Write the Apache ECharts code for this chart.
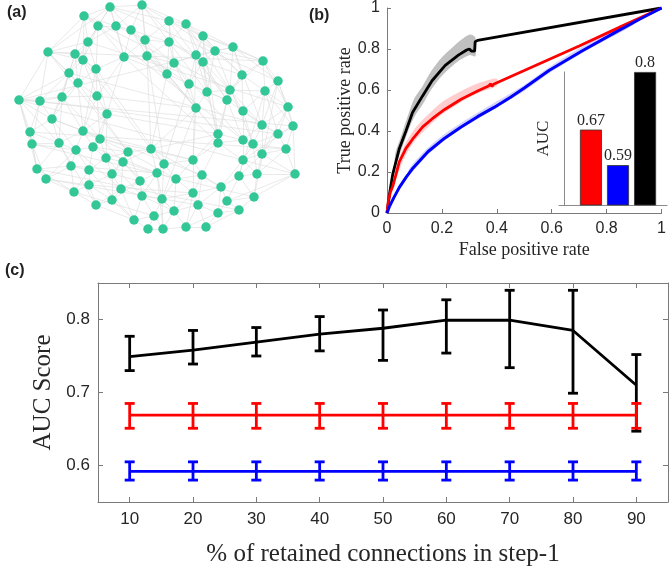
<!DOCTYPE html>
<html>
<head>
<meta charset="utf-8">
<script src="https://cdn.jsdelivr.net/npm/echarts@6/dist/echarts.min.js"></script>
<style>
  html, body { margin: 0; padding: 0; background: #fff; }
  #chart { width: 669px; height: 571px; }
</style>
</head>
<body>
<div id="chart"></div>
<script>
// (a) network: node positions (panel pixels) and links
const nodes = [
  [110,7],[142,5],[84,16],[169,21],[186,24],[98,26],[116,26],[131,30],[203,36],[145,40],
  [88,42],[169,42],[233,47],[48,52],[215,51],[75,54],[124,57],[147,56],[196,55],[83,60],
  [203,62],[263,61],[174,63],[96,69],[69,73],[167,74],[242,75],[278,81],[78,83],[189,84],
  [207,92],[230,90],[265,91],[19,100],[40,101],[62,97],[97,96],[227,100],[196,108],[288,107],
  [243,111],[107,114],[52,119],[262,125],[293,126],[30,132],[83,131],[218,134],[278,134],[100,139],
  [243,140],[32,144],[59,143],[218,143],[253,144],[93,147],[76,150],[151,149],[286,149],[128,152],
  [262,154],[106,158],[123,162],[193,160],[243,160],[164,164],[71,166],[37,169],[89,170],[112,174],
  [157,173],[202,175],[257,174],[295,174],[239,176],[46,179],[176,179],[140,181],[89,185],[221,187],
  [121,189],[74,192],[193,193],[142,196],[112,200],[162,199],[227,201],[254,197],[96,205],[198,205],
  [174,211],[239,210],[218,213],[154,216],[134,220],[148,229],[163,229],[186,227],[206,227]
];
const edges = [
  [0,1],[0,2],[0,5],[0,6],[0,7],[0,3],[0,10],[0,16],[0,13],
  [1,3],[1,4],[1,7],[1,9],[1,11],[1,6],[1,17],
  [2,5],[2,10],[2,13],[2,15],[2,6],[2,19],
  [3,4],[3,8],[3,11],[3,9],[3,14],[3,22],
  [4,8],[4,11],[4,14],[4,18],[4,12],[4,20],
  [5,6],[5,10],[5,16],[5,19],[5,23],
  [6,7],[6,16],[6,9],[6,10],
  [7,9],[7,16],[7,17],[7,11],
  [8,12],[8,14],[8,18],[8,20],[8,21],[8,26],
  [9,11],[9,17],[9,16],[9,22],[9,25],
  [10,15],[10,19],[10,23],[10,24],[10,13],
  [11,17],[11,18],[11,22],[11,25],[11,20],
  [12,14],[12,21],[12,26],[12,27],[12,31],
  [13,15],[13,24],[13,33],[13,34],[13,28],[13,19],
  [14,18],[14,20],[14,26],[14,21],[14,30],
  [15,19],[15,24],[15,28],[15,35],[15,23],
  [16,17],[16,23],[16,25],[16,36],[16,41],
  [17,22],[17,25],[17,29],[17,38],
  [18,20],[18,22],[18,29],[18,30],
  [19,23],[19,24],[19,28],[19,36],
  [20,29],[20,30],[20,26],[20,31],[20,37],
  [21,26],[21,27],[21,32],[21,31],[21,39],
  [22,25],[22,29],[22,38],
  [23,28],[23,36],[23,41],[23,46],
  [24,28],[24,34],[24,35],[24,33],[24,42],
  [25,29],[25,38],[25,57],
  [26,31],[26,32],[26,37],[26,40],
  [27,32],[27,39],[27,44],[27,43],
  [28,35],[28,36],[28,42],[28,46],
  [29,30],[29,38],[29,37],
  [30,31],[30,37],[30,38],[30,47],
  [31,37],[31,40],[31,43],[31,32],
  [32,39],[32,43],[32,40],[32,48],[32,44],
  [33,34],[33,42],[33,45],[33,51],[33,35],[33,67],[33,52],
  [34,35],[34,42],[34,45],[34,51],
  [35,36],[35,42],[35,46],[35,52],
  [36,41],[36,46],[36,49],
  [37,40],[37,47],[37,50],[37,53],
  [38,47],[38,57],[38,63],
  [39,44],[39,48],[39,43],
  [40,43],[40,50],[40,54],[40,48],
  [41,46],[41,49],[41,55],[41,61],
  [42,45],[42,46],[42,52],[42,56],
  [43,48],[43,50],[43,54],[43,60],
  [44,48],[44,58],[44,73],
  [45,51],[45,52],[45,67],
  [46,49],[46,52],[46,55],[46,56],
  [47,50],[47,53],[47,63],[47,57],
  [48,54],[48,58],[48,60],
  [49,55],[49,59],[49,61],
  [50,53],[50,54],[50,64],[50,60],
  [51,52],[51,67],[51,75],[51,56],
  [52,56],[52,66],[52,67],
  [53,63],[53,64],[53,71],
  [54,58],[54,60],[54,64],[54,72],
  [55,56],[55,61],[55,68],[55,59],
  [56,66],[56,68],[56,75],
  [57,59],[57,62],[57,65],[57,70],[57,63],
  [58,60],[58,73],[58,72],
  [59,62],[59,69],[59,61],[59,77],
  [60,64],[60,72],[60,73],[60,74],
  [61,62],[61,68],[61,69],
  [62,69],[62,77],[62,70],[62,80],
  [63,65],[63,71],[63,76],[63,82],
  [64,72],[64,74],[64,79],
  [65,70],[65,76],[65,85],
  [66,67],[66,68],[66,75],[66,81],
  [67,75],[67,81],
  [68,69],[68,78],[68,81],
  [69,77],[69,78],[69,80],[69,84],
  [70,76],[70,77],[70,83],[70,85],
  [71,76],[71,79],[71,82],[71,89],
  [72,73],[72,74],[72,87],
  [73,87],[73,86],
  [74,79],[74,86],[74,87],
  [75,81],[75,78],
  [76,82],[76,85],[76,90],
  [77,80],[77,83],[77,84],
  [78,81],[78,84],[78,88],
  [79,82],[79,86],[79,92],[79,89],
  [80,84],[80,83],[80,88],[80,94],
  [81,88],
  [82,85],[82,89],[82,90],[82,97],
  [83,85],[83,93],[83,94],[83,90],
  [84,88],[84,94],
  [85,90],[85,93],[85,96],
  [86,87],[86,91],[86,92],
  [87,91],[88,94],
  [89,92],[89,97],[89,98],[89,90],
  [90,93],[90,96],[90,97],
  [91,92],[91,98],[92,98],[92,97],
  [93,94],[93,95],[93,96],[94,95],[95,96],[96,97],[97,98],
  [33,12],[13,21],[0,27],[2,31],[10,39],[33,44],[34,48],[24,43],[41,47],[36,38],
  [46,57],[49,63],[33,73],[13,59],[42,71],[23,65],[16,53],[1,40],[5,50],[45,58],
  [51,87],[67,91],[75,89],[78,82],[81,93],[66,70],[19,57],[28,59],[35,62],[25,47],
  [22,50],[3,37],[11,30],[7,38],[9,65],[17,57],[55,70],[61,83],[44,64],[39,60],
  [27,87],[32,74],[12,43],[14,54],[8,47],[4,31],[18,63],[20,53],[29,65],[38,85],
  [57,79],[62,90],[68,94],[52,88],[56,80],[59,76],[70,96]
];

// (b) ROC curves [fpr, tpr]
const rocBlack = [[0,0],[0.01,0.1],[0.021,0.19],[0.045,0.315],[0.069,0.4],[0.093,0.49],[0.129,0.57],
  [0.164,0.645],[0.212,0.72],[0.26,0.77],[0.29,0.795],[0.3,0.8],[0.307,0.79],[0.314,0.782],
  [0.319,0.79],[0.321,0.835],[0.33,0.842],[1,1]];
const rocRed = [[0,0],[0.005,0.06],[0.012,0.1],[0.021,0.13],[0.045,0.25],[0.069,0.315],[0.093,0.36],
  [0.13,0.42],[0.165,0.46],[0.21,0.505],[0.27,0.555],[0.33,0.595],[0.37,0.62],[0.378,0.63],
  [0.382,0.618],[0.388,0.628],[0.5,0.695],[0.7,0.815],[0.85,0.908],[1,1]];
const rocBlue = [[0,0],[0.01,0.035],[0.025,0.075],[0.045,0.125],[0.07,0.175],[0.095,0.22],[0.15,0.3],
  [0.21,0.365],[0.27,0.42],[0.33,0.47],[0.39,0.515],[0.45,0.565],[0.5,0.61],[0.59,0.695],
  [0.71,0.79],[0.83,0.88],[0.92,0.945],[1,1]];
// shaded spread [fpr, low, high]
const bandBlack = [[0.03,0.23,0.29],[0.05,0.3,0.37],[0.08,0.41,0.49],[0.1,0.47,0.56],[0.13,0.53,0.62],
  [0.16,0.6,0.69],[0.2,0.67,0.76],[0.24,0.72,0.81],[0.27,0.75,0.845],[0.3,0.77,0.87],[0.322,0.765,0.855]];
const bandRed = [[0.03,0.16,0.21],[0.06,0.26,0.32],[0.1,0.35,0.41],[0.15,0.42,0.48],[0.2,0.48,0.54],
  [0.25,0.525,0.58],[0.3,0.565,0.615],[0.35,0.595,0.64],[0.4,0.62,0.655]];
const bandBlue = [[0.08,0.185,0.215],[0.15,0.285,0.32],[0.22,0.365,0.395],[0.3,0.435,0.465],[0.4,0.515,0.545],
  [0.5,0.595,0.625],[0.6,0.69,0.72],[0.75,0.81,0.84],[0.9,0.92,0.945]];
// inset AUC bars
const aucPos = [1, 2, 3];
const aucValues = [0.67, 0.59, 0.8];
const aucText = ['0.67', '0.59', '0.8'];
const aucColors = ['#ff0000', '#0000ff', '#000000'];

// (c) AUC vs retained connections
const retained = [10, 20, 30, 40, 50, 60, 70, 80, 90];
const blackMean = [0.749, 0.758, 0.769, 0.780, 0.788, 0.799, 0.799, 0.785, 0.710];
const blackLow  = [0.730, 0.739, 0.750, 0.757, 0.744, 0.754, 0.734, 0.699, 0.647];
const blackHigh = [0.777, 0.785, 0.789, 0.804, 0.813, 0.827, 0.840, 0.840, 0.752];
const redMean = [0.669, 0.669, 0.669, 0.669, 0.669, 0.669, 0.669, 0.669, 0.669];
const redLow  = [0.651, 0.651, 0.651, 0.651, 0.651, 0.651, 0.651, 0.651, 0.651];
const redHigh = [0.685, 0.685, 0.685, 0.685, 0.685, 0.685, 0.685, 0.685, 0.685];
const blueMean = [0.592, 0.592, 0.592, 0.592, 0.592, 0.592, 0.592, 0.592, 0.592];
const blueLow  = [0.580, 0.580, 0.580, 0.580, 0.580, 0.580, 0.580, 0.580, 0.580];
const blueHigh = [0.605, 0.605, 0.605, 0.605, 0.605, 0.605, 0.605, 0.605, 0.605];
const scoreTicks = [0.6, 0.7, 0.8];

const SANS = 'Liberation Sans, Arial, sans-serif';
const SERIF = 'Liberation Serif, Times New Roman, serif';
const AX = '#7a7a7a';
const TXT = '#262626';

const chart = echarts.init(document.getElementById('chart'), null, { renderer: 'canvas' });

function bandSeries(band, color, xi, yi) {
  return {
    type: 'custom', xAxisIndex: xi, yAxisIndex: yi, silent: true, z: 1,
    data: band,
    encode: { x: 0, y: [1, 2] },
    renderItem: (params, api) => {
      if (params.dataIndex !== 0) return;
      const up = band.map((p) => api.coord([p[0], p[2]]));
      const dn = band.slice().reverse().map((p) => api.coord([p[0], p[1]]));
      return { type: 'polygon', shape: { points: up.concat(dn), smooth: 0.3 }, style: { fill: color } };
    },
  };
}

function errorSeries(low, high, color, z) {
  return {
    type: 'custom', xAxisIndex: 3, yAxisIndex: 3, silent: true, z: z,
    data: retained.map((x, i) => [x, low[i], high[i]]),
    encode: { x: 0, y: [1, 2] },
    renderItem: (params, api) => {
      const p1 = api.coord([api.value(0), api.value(1)]);
      const p2 = api.coord([api.value(0), api.value(2)]);
      const w = 5;
      const st = { stroke: color, lineWidth: 2.8 };
      return {
        type: 'group',
        children: [
          { type: 'line', shape: { x1: p1[0], y1: p1[1], x2: p2[0], y2: p2[1] }, style: st },
          { type: 'line', shape: { x1: p1[0] - w, y1: p1[1], x2: p1[0] + w, y2: p1[1] }, style: st },
          { type: 'line', shape: { x1: p2[0] - w, y1: p2[1], x2: p2[0] + w, y2: p2[1] }, style: st },
        ],
      };
    },
  };
}

function meanSeries(mean, color, z) {
  return {
    type: 'line', xAxisIndex: 3, yAxisIndex: 3, z: z,
    data: retained.map((x, i) => [x, mean[i]]),
    symbol: 'none',
    lineStyle: { color: color, width: 2.8 },
  };
}

function rocSeries(data, color, width, z) {
  return {
    type: 'line', xAxisIndex: 1, yAxisIndex: 1, z: z,
    data: data, symbol: 'none',
    lineStyle: { color: color, width: width },
  };
}

const hidden = { show: false };

chart.setOption({
  animation: false,
  backgroundColor: '#fff',
  grid: [
    { left: 0, top: 0, width: 300, height: 240 },
    { left: 387, top: 4, width: 280, height: 209 },
    { left: 559, top: 72, width: 108, height: 133 },
    { left: 98, top: 283, width: 570, height: 219 },
  ],
  xAxis: [
    { gridIndex: 0, type: 'value', min: 0, max: 300, show: false },
    {
      gridIndex: 1, type: 'value', min: 0, max: 1, interval: 0.2,
      name: 'False positive rate', nameLocation: 'middle', nameGap: 28,
      nameTextStyle: { fontFamily: SERIF, fontSize: 18, color: TXT },
      axisLine: { lineStyle: { color: AX } },
      axisTick: { inside: true, length: 4, lineStyle: { color: AX } },
      axisLabel: { fontFamily: SANS, fontSize: 16, color: TXT, margin: 8 },
      splitLine: hidden,
    },
    {
      gridIndex: 2, type: 'value', min: -0.18, max: 3.81,
      axisLine: { lineStyle: { color: '#8a8a8a' } },
      axisTick: hidden, axisLabel: hidden, splitLine: hidden,
    },
    {
      gridIndex: 3, type: 'value', min: 5, max: 95,
      name: '% of retained connections in step-1', nameLocation: 'middle', nameGap: 40,
      nameTextStyle: { fontFamily: SERIF, fontSize: 25, color: TXT },
      axisLine: { lineStyle: { color: AX } },
      axisTick: { inside: true, length: 5, customValues: retained, lineStyle: { color: AX } },
      axisLabel: { fontFamily: SANS, fontSize: 17, color: TXT, margin: 9, customValues: retained },
      splitLine: hidden,
    },
    {
      gridIndex: 3, type: 'value', min: 5, max: 95, position: 'top',
      axisLine: { lineStyle: { color: AX } },
      axisTick: { inside: true, length: 5, customValues: retained, lineStyle: { color: AX } },
      axisLabel: hidden, splitLine: hidden,
    },
  ],
  yAxis: [
    { gridIndex: 0, type: 'value', min: 0, max: 240, inverse: true, show: false },
    {
      gridIndex: 1, type: 'value', min: 0, max: 1, interval: 0.2,
      name: 'True positive rate', nameLocation: 'middle', nameGap: 33, nameRotate: 90,
      nameTextStyle: { fontFamily: SERIF, fontSize: 18, color: TXT },
      axisLine: { show: true, lineStyle: { color: AX } },
      axisTick: { show: true, inside: true, length: 4, lineStyle: { color: AX } },
      axisLabel: { fontFamily: SANS, fontSize: 16, color: TXT, margin: 7 },
      splitLine: hidden,
    },
    {
      gridIndex: 2, type: 'value', min: 0.5, max: 0.8,
      name: 'AUC', nameLocation: 'middle', nameGap: 7, nameRotate: 90,
      nameTextStyle: { fontFamily: SERIF, fontSize: 17, color: TXT },
      axisLine: { show: true, lineStyle: { color: '#8a8a8a' } },
      axisTick: hidden, axisLabel: hidden, splitLine: hidden,
    },
    {
      gridIndex: 3, type: 'value', min: 0.55, max: 0.85,
      name: 'AUC Score', nameLocation: 'middle', nameGap: 42, nameRotate: 90,
      nameTextStyle: { fontFamily: SERIF, fontSize: 25, color: TXT },
      axisLine: { show: true, lineStyle: { color: AX } },
      axisTick: { show: true, inside: true, length: 5, customValues: scoreTicks, lineStyle: { color: AX } },
      axisLabel: {
        fontFamily: SANS, fontSize: 17, color: TXT, margin: 8, customValues: scoreTicks,
        formatter: (v) => v.toFixed(1),
      },
      splitLine: hidden,
    },
    {
      gridIndex: 3, type: 'value', min: 0.55, max: 0.85, position: 'right',
      axisLine: { show: true, lineStyle: { color: AX } },
      axisTick: { show: true, inside: true, length: 5, customValues: scoreTicks, lineStyle: { color: AX } },
      axisLabel: hidden, splitLine: hidden,
    },
  ],
  graphic: [
    { type: 'text', left: 7, top: 5, style: { text: '(a)', font: 'bold 16px ' + SANS, fill: '#222' } },
    { type: 'text', left: 309, top: 8, style: { text: '(b)', font: 'bold 16px ' + SANS, fill: '#222' } },
    { type: 'text', left: 5, top: 263, style: { text: '(c)', font: 'bold 16px ' + SANS, fill: '#222' } },
  ],
  series: [
    {
      type: 'graph', coordinateSystem: 'cartesian2d', xAxisIndex: 0, yAxisIndex: 0,
      silent: true,
      data: nodes,
      links: edges.map(([s, t]) => ({ source: s, target: t })),
      symbolSize: 9.5,
      itemStyle: { color: '#33c798' },
      lineStyle: { color: '#dcdcdc', width: 0.8, opacity: 0.8, curveness: 0 },
      label: { show: false },
      emphasis: { disabled: true },
    },
    bandSeries(bandBlack, 'rgba(150,150,150,0.6)', 1, 1),
    bandSeries(bandRed, 'rgba(255,130,130,0.4)', 1, 1),
    bandSeries(bandBlue, 'rgba(130,130,255,0.35)', 1, 1),
    rocSeries(rocBlack, '#000', 2.8, 3),
    rocSeries(rocRed, '#ff0000', 2.8, 4),
    rocSeries(rocBlue, '#0000ff', 3, 5),
    {
      type: 'bar', xAxisIndex: 2, yAxisIndex: 2, barWidth: 22,
      data: aucPos.map((x, i) => ({
        value: [x, aucValues[i]],
        itemStyle: { color: aucColors[i], borderColor: '#333', borderWidth: 0.8 },
      })),
      label: {
        show: true, position: 'top', distance: 1,
        formatter: (p) => aucText[p.dataIndex],
        fontFamily: SERIF, fontSize: 16, color: TXT,
      },
    },
    errorSeries(blackLow, blackHigh, '#000', 3),
    meanSeries(blackMean, '#000', 3),
    errorSeries(redLow, redHigh, '#ff0000', 4),
    meanSeries(redMean, '#ff0000', 4),
    errorSeries(blueLow, blueHigh, '#0000ff', 5),
    meanSeries(blueMean, '#0000ff', 5),
  ],
});
</script>
</body>
</html>
